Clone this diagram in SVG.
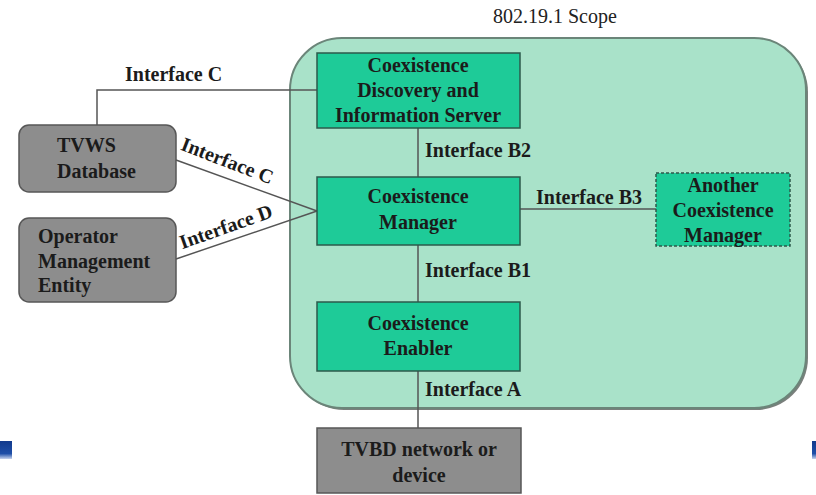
<svg xmlns="http://www.w3.org/2000/svg" width="816" height="495" viewBox="0 0 816 495">
  <style>
    .node-green { fill: #1ecb98; stroke: #2c5a4b; stroke-width: 1.5; }
    .node-gray { fill: #8d8d8d; stroke: #575757; stroke-width: 1.5; }
    .node-dashed { fill: #1ecb98; stroke: #2c5a4b; stroke-width: 1.5; stroke-dasharray: 3 2; }
    .lbl { font-family: "Liberation Serif", "Times New Roman", serif; font-weight: bold; font-size: 20px; fill: #1b1b1b; }
    .mid { text-anchor: middle; }
    .wire { stroke: #555555; stroke-width: 1.5; fill: none; }
    .scope-title { font-family: "Liberation Serif", "Times New Roman", serif; font-size: 20px; fill: #222222; }
  </style>
  <defs>
    <linearGradient id="blueTab" x1="0" y1="0" x2="0" y2="1">
      <stop offset="0" stop-color="#123a8c"/>
      <stop offset="0.7" stop-color="#1f4fa8"/>
      <stop offset="1" stop-color="#c8d4ee"/>
    </linearGradient>
  </defs>

  <rect x="0" y="0" width="816" height="495" fill="#ffffff"/>

  <!-- slide edge tabs -->
  <rect x="0" y="441" width="12" height="18" fill="url(#blueTab)"/>
  <rect x="812" y="441" width="4" height="18" fill="url(#blueTab)"/>

  <!-- 802.19.1 scope region with a soft drop shadow -->
  <g id="scope">
    <rect x="292" y="40" width="516" height="370" rx="52" ry="52" fill="#7a7f7c"/>
    <rect x="290" y="38" width="516" height="370" rx="52" ry="52" fill="#a9e2c9" stroke="#6b8579" stroke-width="2"/>
    <text class="scope-title" x="493" y="23">802.19.1 Scope</text>
  </g>

  <!-- connectors -->
  <g id="connectors">
    <polyline class="wire" points="97,125 97,90 317,90"/>
    <line class="wire" x1="176" y1="160" x2="317" y2="211"/>
    <line class="wire" x1="176" y1="259" x2="317" y2="211"/>
    <line class="wire" x1="418" y1="128" x2="418" y2="177"/>
    <line class="wire" x1="520" y1="209" x2="656" y2="209"/>
    <line class="wire" x1="418" y1="245" x2="418" y2="302"/>
    <line class="wire" x1="418" y1="371" x2="418" y2="428"/>
    <text class="lbl" x="125" y="81">Interface C</text>
    <text class="lbl mid" transform="translate(225,167) rotate(21)">Interface C</text>
    <text class="lbl mid" transform="translate(228,233) rotate(-19.5)">Interface D</text>
    <text class="lbl" x="425" y="157">Interface B2</text>
    <text class="lbl" x="536" y="204">Interface B3</text>
    <text class="lbl" x="425" y="277">Interface B1</text>
    <text class="lbl" x="425" y="396">Interface A</text>
  </g>

  <g id="cdis">
    <rect class="node-green" x="317" y="53" width="203" height="75"/>
    <text class="lbl mid" x="418" y="72">Coexistence</text>
    <text class="lbl mid" x="418" y="97">Discovery and</text>
    <text class="lbl mid" x="418" y="122">Information Server</text>
  </g>

  <g id="coexistence-manager">
    <rect class="node-green" x="317" y="177" width="203" height="68"/>
    <text class="lbl mid" x="418" y="203">Coexistence</text>
    <text class="lbl mid" x="418" y="229">Manager</text>
  </g>

  <g id="another-manager">
    <rect class="node-dashed" x="656" y="173" width="134" height="73"/>
    <text class="lbl mid" x="723" y="192">Another</text>
    <text class="lbl mid" x="723" y="217">Coexistence</text>
    <text class="lbl mid" x="723" y="242">Manager</text>
  </g>

  <g id="coexistence-enabler">
    <rect class="node-green" x="317" y="302" width="203" height="69"/>
    <text class="lbl mid" x="418" y="330">Coexistence</text>
    <text class="lbl mid" x="418" y="355">Enabler</text>
  </g>

  <g id="tvbd">
    <rect class="node-gray" x="317" y="428" width="204" height="65"/>
    <text class="lbl mid" x="419" y="456">TVBD network or</text>
    <text class="lbl mid" x="419" y="482">device</text>
  </g>

  <g id="tvws-database">
    <rect class="node-gray" x="19" y="125" width="157" height="67" rx="10" ry="10"/>
    <text class="lbl" x="57" y="152">TVWS</text>
    <text class="lbl" x="57" y="178">Database</text>
  </g>

  <g id="operator-management">
    <rect class="node-gray" x="19" y="218" width="157" height="84" rx="10" ry="10"/>
    <text class="lbl" x="38" y="243">Operator</text>
    <text class="lbl" x="38" y="268">Management</text>
    <text class="lbl" x="38" y="292">Entity</text>
  </g>
</svg>
